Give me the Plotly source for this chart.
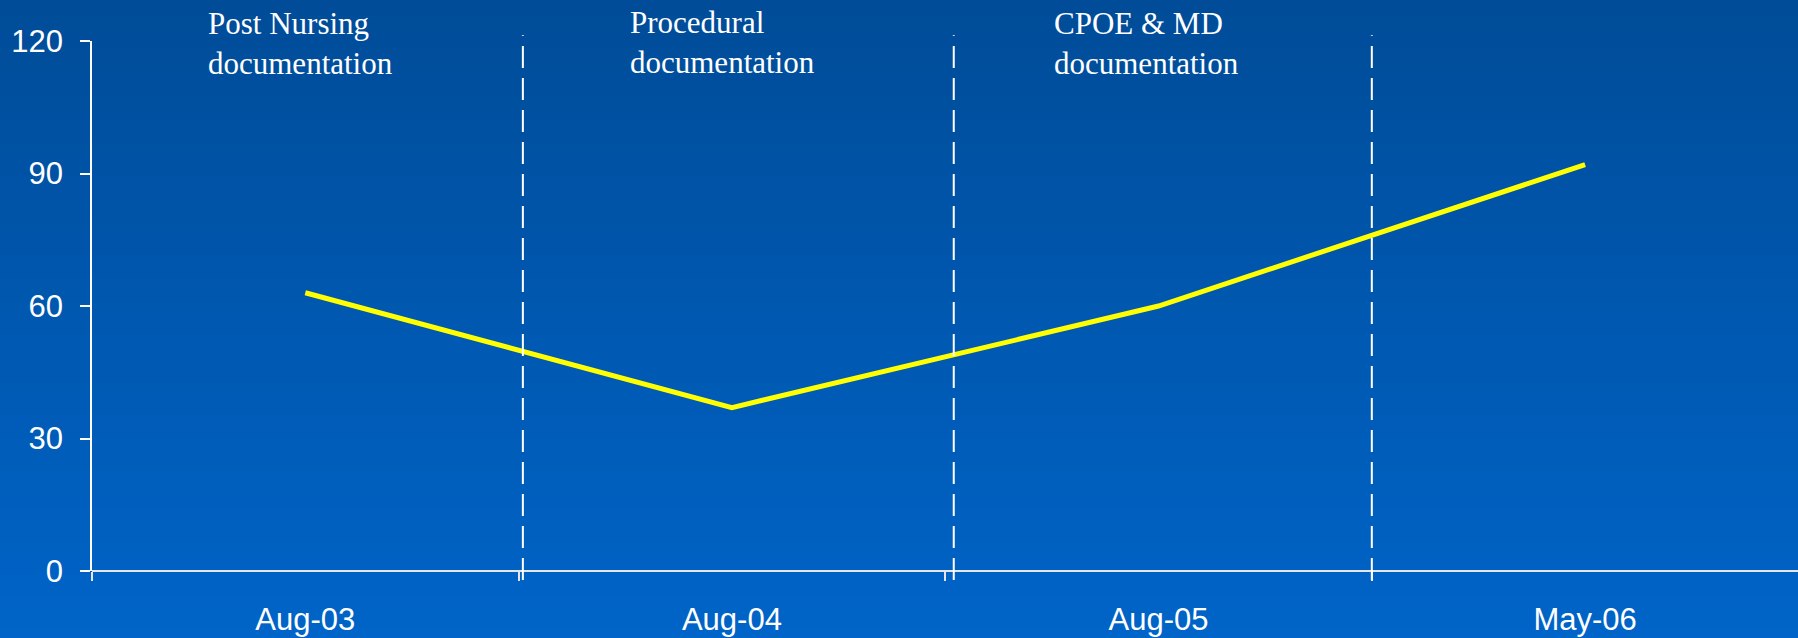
import plotly.graph_objects as go

# Survey periods and measured values
periods = ["Aug-03", "Aug-04", "Aug-05", "May-06"]
values = [63, 37, 60, 92]

# Phase labels drawn above the chart, one per rollout stage
phase_labels = ["Post Nursing<br>documentation",
                "Procedural<br>documentation",
                "CPOE &amp; MD<br>documentation"]
phase_label_x = [0.0668, 0.3143, 0.5628]      # paper x of each label's left edge
phase_label_y = [0.995, 0.997, 0.995]         # paper y of each label's centre

# Category boundaries where a new phase begins
phase_boundaries = [0.51, 1.52, 2.5]

y_ticks = [0, 30, 60, 90, 120]

W, H = 1798, 638
M_L, M_R, M_T, M_B = 92, 0, 41, 67

fig = go.Figure()

fig.add_trace(go.Scatter(
    x=periods, y=values, mode="lines",
    line=dict(color="#ffff00", width=5),
    hoverinfo="skip", showlegend=False,
))

shapes = []

# Vertical background gradient built from thin horizontal bands
top_rgb = (0, 76, 152)
bot_rgb = (0, 100, 200)
n_bands = 80
plot_h = H - M_T - M_B
y_top_paper = (H - M_B) / plot_h
y_bot_paper = -M_B / plot_h
x_left_paper = -M_L / (W - M_L - M_R)
for i in range(n_bands):
    t = (i + 0.5) / n_bands
    r = round(top_rgb[0] + (bot_rgb[0] - top_rgb[0]) * t)
    g = round(top_rgb[1] + (bot_rgb[1] - top_rgb[1]) * t)
    b = round(top_rgb[2] + (bot_rgb[2] - top_rgb[2]) * t)
    y0 = y_top_paper + (y_bot_paper - y_top_paper) * i / n_bands
    y1 = y_top_paper + (y_bot_paper - y_top_paper) * (i + 1) / n_bands
    shapes.append(dict(
        type="rect", xref="paper", yref="paper",
        x0=x_left_paper, x1=1.01, y0=y0 + 0.002, y1=y1 - 0.002,
        fillcolor=f"rgb({r},{g},{b})", line=dict(width=0), layer="below",
    ))

# Dashed separators between phases
for xb in phase_boundaries:
    shapes.append(dict(
        type="line", xref="x", yref="paper",
        x0=xb, x1=xb, y0=-0.017, y1=1.011,
        line=dict(color="white", width=2, dash="22px,10px"),
        layer="above",
    ))

annotations = []
for txt, ax, ay in zip(phase_labels, phase_label_x, phase_label_y):
    annotations.append(dict(
        text=txt, xref="paper", yref="paper", x=ax, y=ay,
        xanchor="left", yanchor="middle", align="left", showarrow=False,
        font=dict(family="Liberation Serif, Times New Roman, serif",
                  size=31, color="white"),
    ))

fig.update_layout(
    width=W, height=H,
    margin=dict(l=M_L, r=M_R, t=M_T, b=M_B, pad=0),
    paper_bgcolor="#0059b4",
    plot_bgcolor="rgba(0,0,0,0)",
    shapes=shapes,
    annotations=annotations,
    showlegend=False,
    font=dict(family="Liberation Sans, Arial, sans-serif", size=30, color="white"),
)

fig.update_xaxes(
    type="category", range=[-0.5, 3.499],
    showgrid=False, zeroline=False,
    showline=False,
    ticks="outside", tickson="boundaries", ticklen=9, tickwidth=1.5,
    tickcolor="#e6e6e6",
    tickfont=dict(size=31, color="white"),
    ticklabelstandoff=27,
)

fig.update_yaxes(
    range=[0, 120], tickvals=y_ticks,
    showgrid=False, zeroline=True, zerolinecolor="#e6e6e6", zerolinewidth=2,
    showline=True, linecolor="white", linewidth=1.5,
    ticks="outside", ticklen=10, tickwidth=1.5, tickcolor="white",
    tickfont=dict(size=31, color="white"),
    ticklabelstandoff=11,
)

fig.write_html("out.html")
